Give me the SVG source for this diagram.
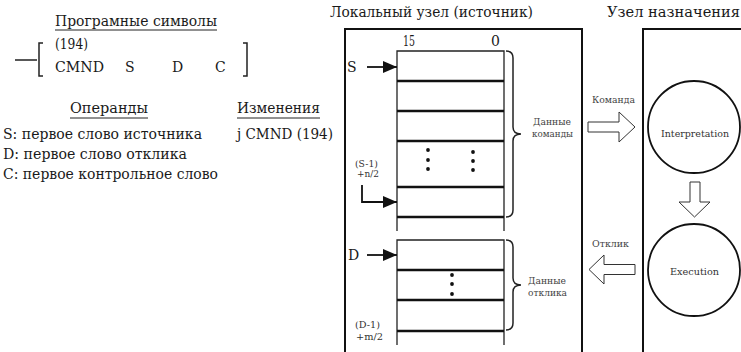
<svg xmlns="http://www.w3.org/2000/svg" width="741" height="352" viewBox="0 0 741 352" font-family="DejaVu Serif, Liberation Serif, serif">
<defs>
<style>
text{font-family:"DejaVu Serif","Liberation Serif",serif;fill:#1a1a1a}
.m{font-size:14px}
.s{font-size:9.5px;fill:#333}
.t{font-size:9.5px;fill:#444}
.box{fill:none;stroke:#111;stroke-width:2}
.reg{fill:none;stroke:#222;stroke-width:1.3}
.row{stroke:#111;stroke-width:2.4}
.ln{fill:none;stroke:#111;stroke-width:1.8}
.hol{fill:#fff;stroke:#333;stroke-width:1}
.br{fill:none;stroke:#222;stroke-width:1.5}
.circ{fill:#fff;stroke:#111;stroke-width:1.8}
</style>
<marker id="ah" viewBox="0 0 14 12" refX="14" refY="6" markerWidth="14" markerHeight="12" markerUnits="userSpaceOnUse" orient="auto">
<path d="M0,0 L14,6 L0,12 z" fill="#111"/>
</marker>
</defs>

<g id="program-symbols">
<text class="m" x="55" y="26" textLength="162" lengthAdjust="spacingAndGlyphs">Програмные символы</text>
<line x1="55" y1="30" x2="217" y2="30" stroke="#222" stroke-width="1"/>
<text class="m" x="55" y="49" textLength="33" lengthAdjust="spacingAndGlyphs">(194)</text>
<text class="m" x="55" y="72" textLength="49" lengthAdjust="spacingAndGlyphs">CMND</text>
<text class="m" x="125" y="72">S</text>
<text class="m" x="172" y="72">D</text>
<text class="m" x="215" y="72">C</text>
<path d="M15,60 H37 M43,43 H39 V76 H43" class="br" stroke-width="2"/>
<path d="M243,43 H247 V76 H243" class="br" stroke-width="2"/>
</g>

<g id="operands">
<text class="m" x="70" y="113" textLength="78" lengthAdjust="spacingAndGlyphs">Операнды</text>
<line x1="70" y1="118" x2="148" y2="118" stroke="#222" stroke-width="1"/>
<text class="m" x="237" y="113" textLength="83" lengthAdjust="spacingAndGlyphs">Изменения</text>
<line x1="237" y1="118" x2="320" y2="118" stroke="#222" stroke-width="1"/>
<text class="m" x="3" y="139" textLength="199" lengthAdjust="spacingAndGlyphs">S: первое слово источника</text>
<text class="m" x="3" y="159" textLength="184" lengthAdjust="spacingAndGlyphs">D: первое слово отклика</text>
<text class="m" x="3" y="179" textLength="215" lengthAdjust="spacingAndGlyphs">C: первое контрольное слово</text>
<text class="m" x="237" y="139" textLength="96" lengthAdjust="spacingAndGlyphs">j CMND (194)</text>
</g>

<g id="local-node">
<text class="m" x="330" y="17" textLength="203" lengthAdjust="spacingAndGlyphs">Локальный узел (источник)</text>
<path d="M345,352 V29 H582 V352" class="box"/>
</g>

<g id="command-register">
<text class="m" x="403" y="46" textLength="12" lengthAdjust="spacingAndGlyphs">15</text>
<text class="m" x="491" y="46">0</text>
<path d="M397,231 V51 H504 V231" class="reg"/>
<line x1="397" y1="81" x2="504" y2="81" class="row"/>
<line x1="397" y1="111" x2="504" y2="111" class="row"/>
<line x1="397" y1="141" x2="504" y2="141" class="row"/>
<line x1="397" y1="187" x2="504" y2="187" class="row"/>
<line x1="397" y1="217" x2="504" y2="217" class="row"/>
<g fill="#111">
<circle cx="428" cy="150" r="1.9"/><circle cx="428" cy="160" r="1.9"/><circle cx="428" cy="169" r="1.9"/>
<circle cx="473" cy="152" r="1.9"/><circle cx="473" cy="161" r="1.9"/><circle cx="473" cy="170" r="1.9"/>
</g>
<text class="m" x="347" y="72">S</text>
<text class="s" x="355" y="167" textLength="23" lengthAdjust="spacingAndGlyphs">(S-1)</text>
<text class="s" x="357" y="177" textLength="22" lengthAdjust="spacingAndGlyphs">+n/2</text>
<path d="M506,51 Q513,51 513,58 V127 Q513,134 521,134 Q513,134 513,141 V210 Q513,217 506,217" class="br"/>
<text class="t" x="533" y="125" textLength="38" lengthAdjust="spacingAndGlyphs">Данные</text>
<text class="t" x="532" y="137" textLength="41" lengthAdjust="spacingAndGlyphs">команды</text>
</g>

<g id="response-register">
<path d="M397,345 V240 H504 V345" class="reg"/>
<line x1="397" y1="270" x2="504" y2="270" class="row"/>
<line x1="397" y1="300" x2="504" y2="300" class="row"/>
<line x1="397" y1="331" x2="504" y2="331" class="row"/>
<g fill="#111">
<circle cx="452" cy="275" r="1.9"/><circle cx="452" cy="284" r="1.9"/><circle cx="452" cy="294" r="1.9"/>
</g>
<text class="m" x="348" y="260">D</text>
<text class="s" x="355" y="328" textLength="25" lengthAdjust="spacingAndGlyphs">(D-1)</text>
<text class="s" x="356" y="340" textLength="27" lengthAdjust="spacingAndGlyphs">+m/2</text>
<path d="M506,240 Q513,240 513,247 V278 Q513,285 521,285 Q513,285 513,292 V323 Q513,330 506,330" class="br"/>
<text class="t" x="528" y="284" textLength="38" lengthAdjust="spacingAndGlyphs">Данные</text>
<text class="t" x="528" y="296" textLength="39" lengthAdjust="spacingAndGlyphs">отклика</text>
</g>

<g id="destination-node">
<text class="m" x="607" y="17" textLength="133" lengthAdjust="spacingAndGlyphs">Узел назначения</text>
<path d="M643,352 V29 H741" class="box"/>
</g>

<g id="interpretation">
<circle cx="694" cy="127" r="46" class="circ"/>
<text class="s" x="661" y="137" textLength="68" lengthAdjust="spacingAndGlyphs">Interpretation</text>
</g>

<g id="execution">
<circle cx="694" cy="270" r="46" class="circ"/>
<text class="s" x="670" y="275" textLength="49" lengthAdjust="spacingAndGlyphs">Execution</text>
</g>

<g id="connectors">
<line x1="367" y1="67" x2="397" y2="67" class="ln" marker-end="url(#ah)"/>
<path d="M362,185 V202 H397" class="ln" marker-end="url(#ah)"/>
<line x1="367" y1="255" x2="397" y2="255" class="ln" marker-end="url(#ah)"/>
<polygon points="588,122 619,122 619,112 635,127 619,142 619,132 588,132" class="hol"/>
<text class="t" x="592" y="103" textLength="43" lengthAdjust="spacingAndGlyphs">Команда</text>
<polygon points="690,182 700,182 700,202 710,202 694.5,217 679,202 690,202" class="hol"/>
<polygon points="589,269.5 604,255 604,264.5 635,264.5 635,274.5 604,274.5 604,284" class="hol"/>
<text class="t" x="592" y="247" textLength="37" lengthAdjust="spacingAndGlyphs">Отклик</text>
</g>
</svg>
